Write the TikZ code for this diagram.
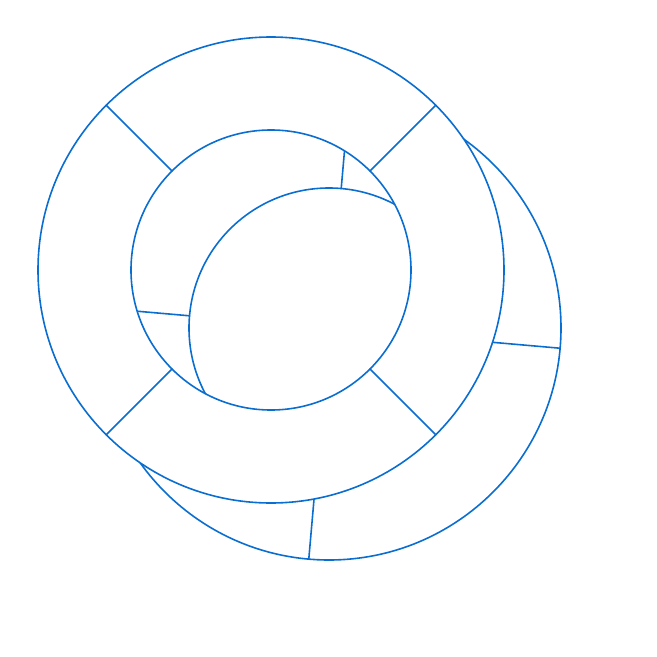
\documentclass[tikz,border=0pt]{standalone}
\usetikzlibrary{calc}
\definecolor{ring}{RGB}{10,110,209}
\begin{document}
\begin{tikzpicture}[x=1bp,y=-1bp,
  ln/.style={draw=ring,line width=1.6bp,line cap=round,line join=round}]
\useasboundingbox (0,0) rectangle (657,657);
% back lifebuoy
\coordinate (B) at (329,328);
\draw[ln] (B) circle[radius=232];
\draw[ln] (B) circle[radius=140];
\foreach \a in {5,95,185,275}
  \draw[ln] ($(B)+(\a:140)$) -- ($(B)+(\a:232)$);
% front lifebuoy occluding
\coordinate (F) at (271,270);
\fill[white,even odd rule] (F) circle[radius=233] (F) circle[radius=140];
\draw[ln] (F) circle[radius=233];
\draw[ln] (F) circle[radius=140];
\foreach \a in {45,135,225,315}
  \draw[ln] ($(F)+(\a:140)$) -- ($(F)+(\a:233)$);
\end{tikzpicture}
\end{document}
